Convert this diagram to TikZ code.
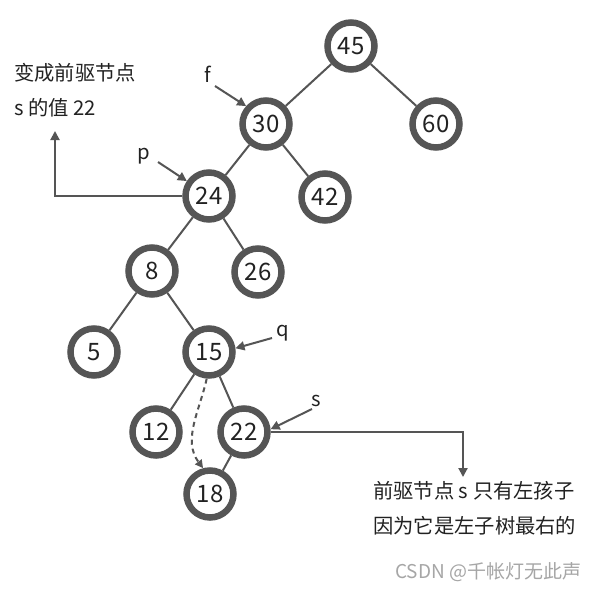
\documentclass[tikz,border=0pt]{standalone}
\usepackage{fontspec}
\setmainfont{Noto Sans CJK SC}
\usetikzlibrary{arrows.meta}
\definecolor{ring}{HTML}{555555}
\definecolor{txt}{HTML}{222222}
\begin{document}
\begin{tikzpicture}[x=1pt,y=-1pt,
 tn/.style={circle,draw=ring,line width=6.5pt,minimum size=47pt,inner sep=0pt,font=\fontsize{24}{24}\selectfont,text=txt,fill=white},
 edge/.style={draw=ring,line width=2pt},
 ptr/.style={draw=ring,line width=2pt,-{Triangle[length=9pt,width=9pt]}},
 lbl/.style={font=\fontsize{20.3}{20.3}\selectfont,text=txt,inner sep=0pt},
 wm/.style={font=\fontsize{19}{19}\selectfont,text=black!35,inner sep=0pt},
]
\useasboundingbox[fill=white] (0,0) rectangle (602,592);
\node[tn] (n45) at (351,46) {45};
\node[tn] (n60) at (436,124) {60};
\node[tn] (n30) at (266,124) {30};
\node[tn] (n42) at (325,197) {42};
\node[tn] (n24) at (209,196) {24};
\node[tn] (n26) at (258,272) {26};
\node[tn] (n8) at (152,271) {8};
\node[tn] (n5) at (94,352) {5};
\node[tn] (n15) at (209,352) {15};
\node[tn] (n12) at (156,432) {12};
\node[tn] (n22) at (244,432) {22};
\node[tn] (n18) at (210,494) {18};
\foreach \a/\b in {n45/n30,n45/n60,n30/n24,n30/n42,n24/n8,n24/n26,n8/n5,n8/n15,n15/n12,n15/n22,n22/n18}
  \draw[edge] (\a) -- (\b);
% pointer labels
\node[lbl] (lf) at (208,74) {f};
\node[lbl] (lp) at (144,156) {p};
\node[lbl] (lq) at (283,333) {q};
\node[lbl] (ls) at (316,401) {s};
\coordinate (fs) at (215,86);
\coordinate (ps) at (158,162);
\coordinate (qs) at (272,338);
\coordinate (ss) at (312,409);
\draw[ptr] (fs) -- (n30.138);
\draw[ptr] (ps) -- (n24.146);
\draw[ptr] (qs) -- (n15.8);
\draw[ptr] (ss) -- (n22.6);
% long connectors
\coordinate (tipA) at (55,131);
\coordinate (tipB) at (463,477);
\draw[ptr] (n24.west) -| (tipA);
\draw[ptr] (n22.east) -| (tipB);
% dashed
\draw[ring,line width=2pt,dash pattern=on 5pt off 4pt,-{Triangle[length=8pt,width=8pt]}]
  (n15.265) .. controls (200,410) and (182,440) .. (n18.105);
% texts
\node[lbl,anchor=west] (t1) at (14,73) {变成前驱节点};
\node[lbl,anchor=west] (t2) at (14,108) {s 的值 22};
\node[lbl,anchor=west] (t3) at (373,491) {前驱节点 s 只有左孩子};
\node[lbl,anchor=west] (t4) at (373,526) {因为它是左子树最右的};
\node[wm,anchor=west] (w) at (395,572) {CSDN @千帐灯无此声};
\end{tikzpicture}
\end{document}
